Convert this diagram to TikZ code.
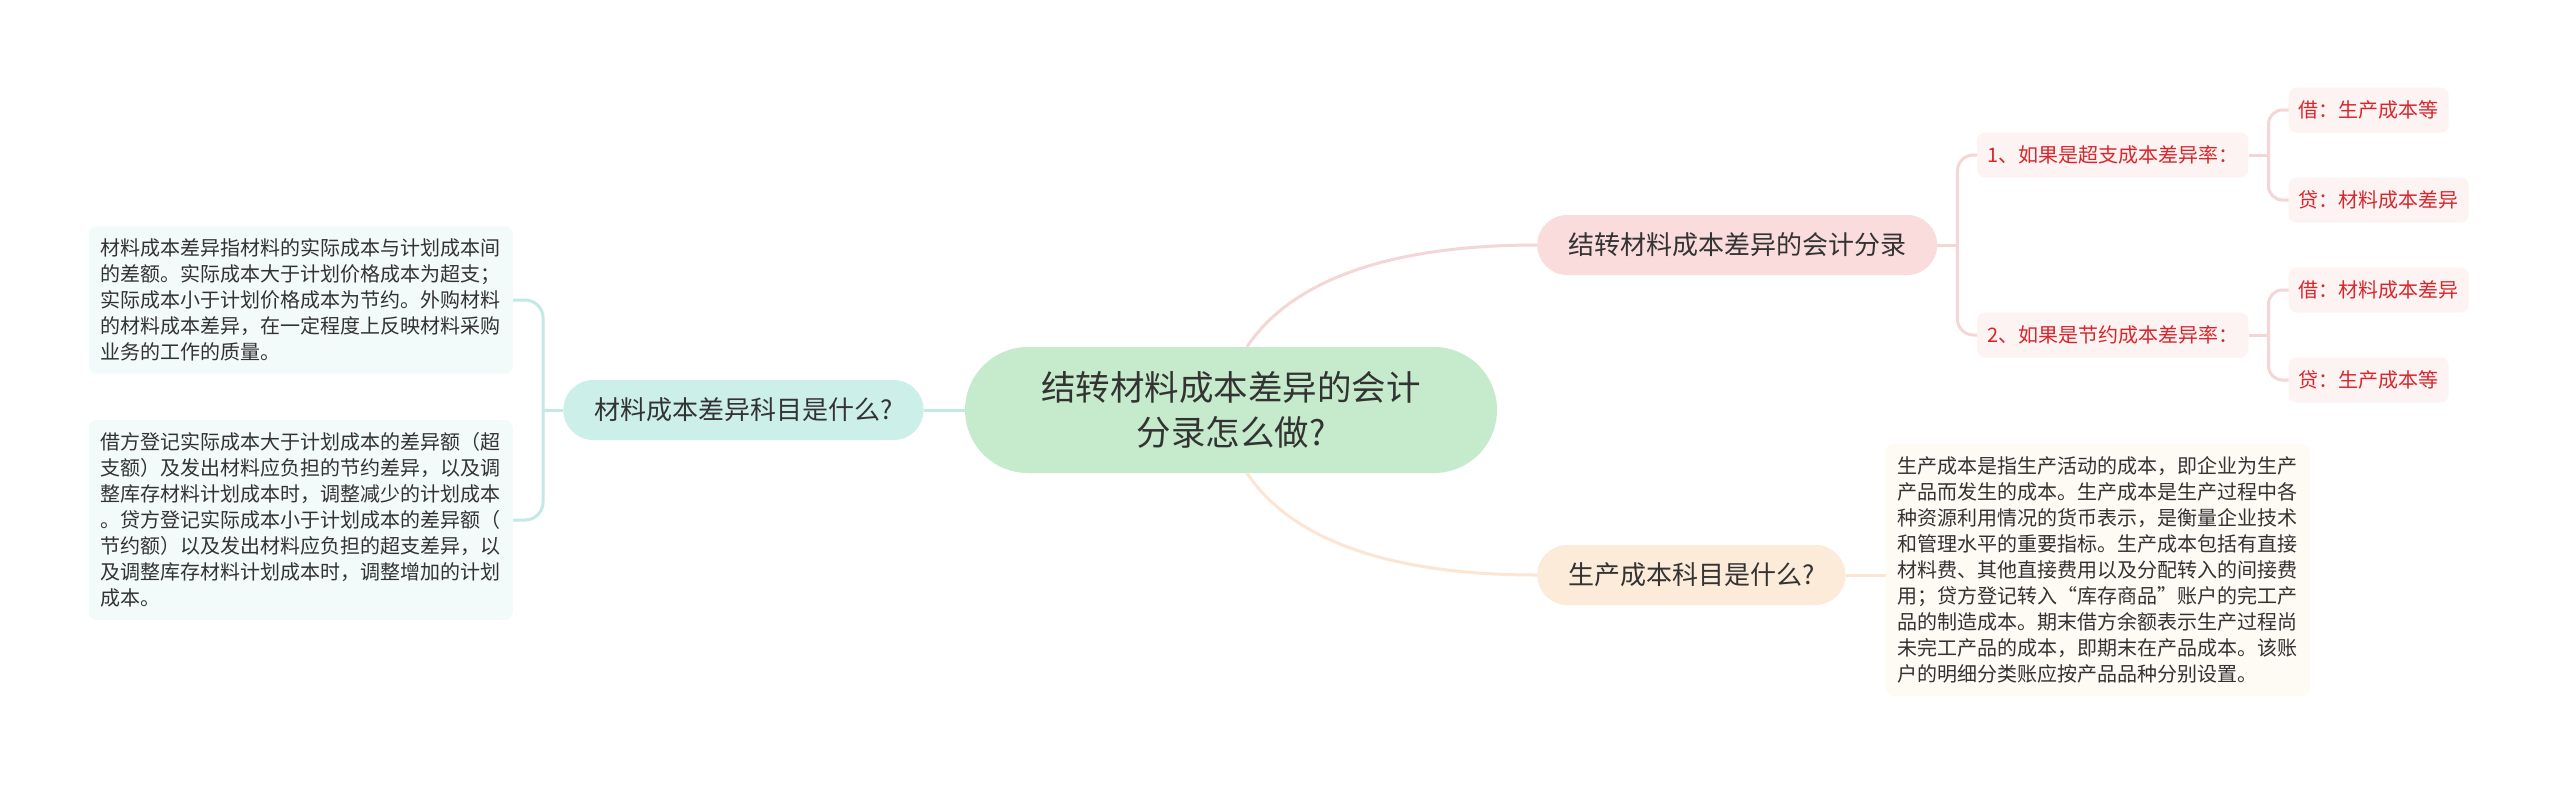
\documentclass[tikz,border=0pt]{standalone}
\usepackage{fontspec}
\setmainfont{Noto Sans CJK SC}
\usepackage{xcolor}
\definecolor{ink}{HTML}{333333}
\definecolor{rootfill}{HTML}{C6EBCC}
\definecolor{matlfill}{HTML}{CDEFEA}
\definecolor{matlnote}{HTML}{F3FAFA}
\definecolor{matlline}{HTML}{C2E9E3}
\definecolor{entrypink}{HTML}{FADCDC}
\definecolor{entryline}{HTML}{F5D6D6}
\definecolor{entryfill}{HTML}{FDF3F3}
\definecolor{entryred}{HTML}{D8262B}
\definecolor{costfill}{HTML}{FDEBD9}
\definecolor{costnote}{HTML}{FEFAF4}
\definecolor{costline}{HTML}{FCE6D2}
\usepackage{tikz}
\usetikzlibrary{
  positioning,
  calc
}

\begin{document}
\begin{tikzpicture}[x=1pt, y=-1pt,
  root/.style={rectangle, rounded corners=63pt, fill=rootfill, text=ink, minimum width=532pt, minimum height=126pt, font=\fontsize{34.5}{45}\selectfont, align=center},
  topic/.style={rectangle, rounded corners=30pt, minimum height=60pt, inner xsep=31pt, text=ink, font=\fontsize{26}{30}\selectfont},
  note/.style={rectangle, rounded corners=8pt, inner xsep=12pt, inner ysep=12.5pt, text=ink, align=left, font=\fontsize{20}{26}\selectfont},
  entry/.style={rectangle, rounded corners=8pt, fill=entryfill, text=entryred, minimum height=45pt, inner xsep=10pt, font=\fontsize{20}{24}\selectfont},
  link/.style={line width=3pt},
]
\fill[white] (0,0) rectangle (2560,790);
\useasboundingbox (0,0) rectangle (2560,790);

\node[root] (root) at (1231,410) {结转材料成本差异的会计\\分录怎么做?};

% left branch
\node[topic, fill=matlfill, left=41pt of root] (matl) {材料成本差异科目是什么?};
\node[note, fill=matlnote, anchor=east] (matl1) at (513,300) {材料成本差异指材料的实际成本与计划成本间\\的差额。实际成本大于计划价格成本为超支；\\实际成本小于计划价格成本为节约。外购材料\\的材料成本差异，在一定程度上反映材料采购\\业务的工作的质量。};
\node[note, fill=matlnote, anchor=east] (matl2) at (513,520) {借方登记实际成本大于计划成本的差异额（超\\支额）及发出材料应负担的节约差异，以及调\\整库存材料计划成本时，调整减少的计划成本\\。贷方登记实际成本小于计划成本的差异额（\\节约额）以及发出材料应负担的超支差异，以\\及调整库存材料计划成本时，调整增加的计划\\成本。};

% right branches
\node[topic, fill=entrypink, anchor=west] (entry) at (1537,245) {结转材料成本差异的会计分录};
\node[topic, fill=costfill, anchor=west] (cost) at (1537,575) {生产成本科目是什么?};
\node[note, fill=costnote, right=40pt of cost, yshift=5pt] (cost1) {生产成本是指生产活动的成本，即企业为生产\\产品而发生的成本。生产成本是生产过程中各\\种资源利用情况的货币表示，是衡量企业技术\\和管理水平的重要指标。生产成本包括有直接\\材料费、其他直接费用以及分配转入的间接费\\用；贷方登记转入“库存商品”账户的完工产\\品的制造成本。期末借方余额表示生产过程尚\\未完工产品的成本，即期末在产品成本。该账\\户的明细分类账应按产品品种分别设置。};

\node[entry, anchor=west] (over) at (1977,155) {1、如果是超支成本差异率：};
\node[entry, anchor=west] (save) at (1977,335) {2、如果是节约成本差异率：};
\node[entry, right=40pt of over, yshift=45pt] (over1) {借：生产成本等};
\node[entry, right=40pt of over, yshift=-45pt] (over2) {贷：材料成本差异};
\node[entry, right=40pt of save, yshift=45pt] (save1) {借：材料成本差异};
\node[entry, right=40pt of save, yshift=-45pt] (save2) {贷：生产成本等};

% connectors
\draw[link, matlline] (matl.east) -- (root.west);
\draw[link, matlline] (matl.west) -- ++(-20,0);
\draw[link, matlline, rounded corners=18pt] (matl1.east) -| ([xshift=-20pt]matl.west) |- (matl2.east);

\draw[link, entryline] ([xshift=16pt]root.north) .. controls +(38,-57) and +(-167,0) .. (entry.west);
\draw[link, costline] ([xshift=16pt]root.south) .. controls +(38,57) and +(-167,0) .. (cost.west);
\draw[link, costline] (cost.east) -- (cost.east -| cost1.west);

\draw[link, entryline] (entry.east) -- ++(20,0);
\draw[link, entryline, rounded corners=16pt] (over.west) -| ([xshift=20pt]entry.east) |- (save.west);
\draw[link, entryline] (over.east) -- ++(20,0);
\draw[link, entryline, rounded corners=14pt] (over1.west) -| ([xshift=20pt]over.east) |- (over2.west);
\draw[link, entryline] (save.east) -- ++(20,0);
\draw[link, entryline, rounded corners=14pt] (save1.west) -| ([xshift=20pt]save.east) |- (save2.west);

\end{tikzpicture}
\end{document}
